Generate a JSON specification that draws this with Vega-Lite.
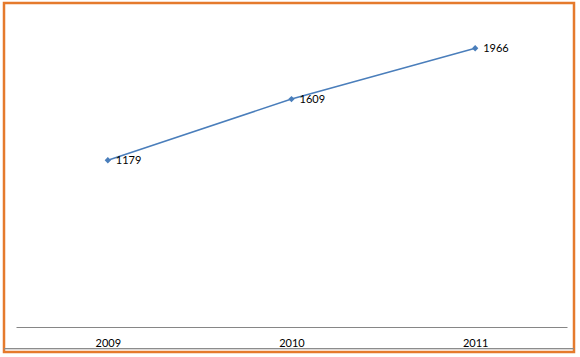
{
  "$schema": "https://vega.github.io/schema/vega-lite/v6.json",
  "width": 570,
  "height": 349,
  "autosize": {"type": "none"},
  "padding": {"left": 4, "top": 3, "right": 6, "bottom": 5},
  "background": "white",
  "config": {
    "view": {"stroke": "#e57a2c", "strokeWidth": 2.5},
    "font": "Lato"
  },
  "data": {
    "values": [
      {"year": "2009", "value": 1179},
      {"year": "2010", "value": 1609},
      {"year": "2011", "value": 1966}
    ]
  },
  "layer": [
    {
      "encoding": {
        "x": {
          "field": "year",
          "type": "ordinal",
          "scale": {"type": "point", "padding": 0.5, "range": [12, 563]},
          "axis": {
            "title": null,
            "labelAngle": 0,
            "ticks": false,
            "tickSize": 0,
            "grid": false,
            "domainColor": "#868686",
            "domainWidth": 1,
            "offset": -25,
            "labelPadding": 10,
            "labelFontSize": 11,
            "labelColor": "#000000",
            "labelFont": "Lato"
          }
        },
        "y": {
          "field": "value",
          "type": "quantitative",
          "scale": {"domain": [0, 2000], "range": [325, 40.4], "zero": true, "nice": false},
          "axis": null
        }
      },
      "layer": [
        {
          "mark": {"type": "line", "color": "#4a7ebb", "strokeWidth": 1.5}
        },
        {
          "mark": {"type": "point", "shape": "diamond", "filled": true, "color": "#4a7ebb", "size": 40, "opacity": 1}
        },
        {
          "mark": {"type": "text", "align": "left", "baseline": "middle", "dx": 8, "dy": 1, "fontSize": 11, "color": "#000000", "font": "Lato"},
          "encoding": {"text": {"field": "value", "type": "quantitative"}}
        }
      ]
    },
    {
      "mark": {"type": "rule", "color": "#8c8c8c", "strokeWidth": 1},
      "encoding": {"y": {"datum": -145, "type": "quantitative"}}
    }
  ]
}
